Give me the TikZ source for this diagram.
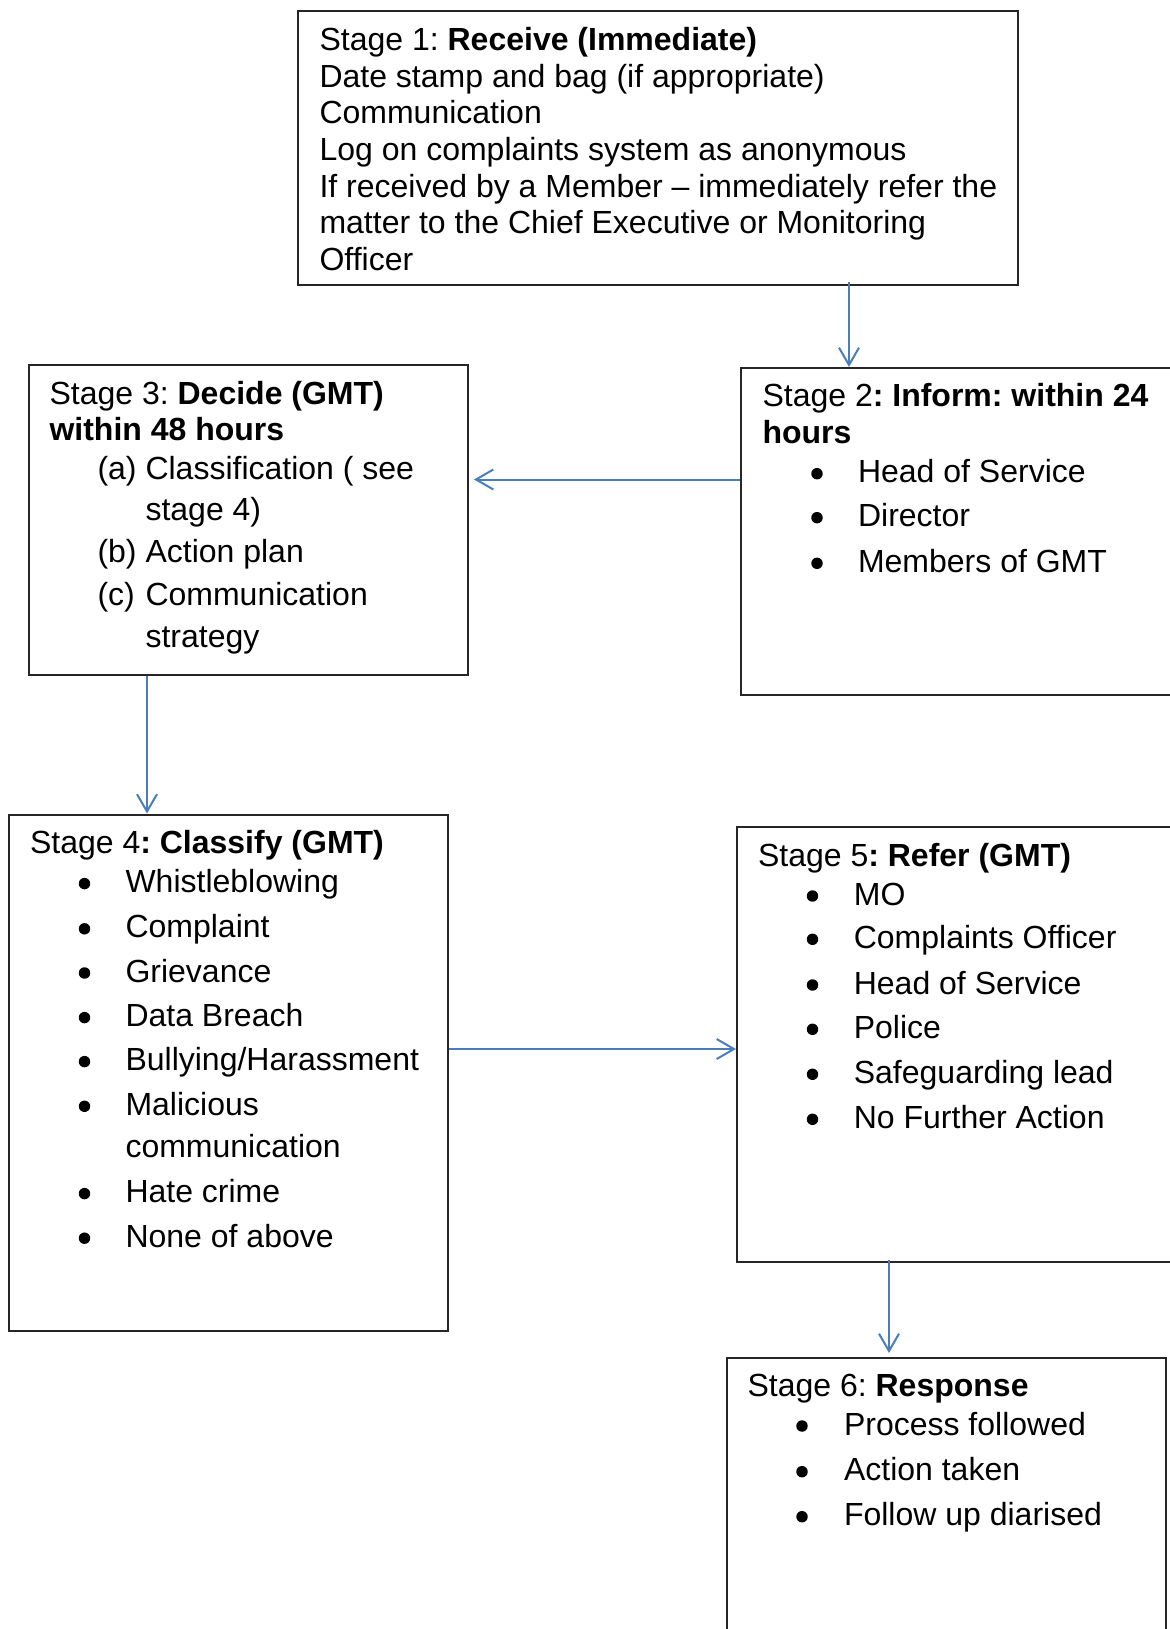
\documentclass[tikz,border=0pt]{standalone}
\usepackage{fontspec}
\setmainfont{Liberation Sans}
\usetikzlibrary{arrows.meta,calc}
\definecolor{arrowblue}{HTML}{4A7EBB}
\frenchspacing
\tikzset{
  box/.style={draw=black!85, line width=0.75pt, rectangle, inner sep=0pt, anchor=north west},
  txt/.style={anchor=base west, inner sep=0pt, font=\fontsize{12}{13.8}\selectfont},
  arr/.style={draw=arrowblue, line width=0.75pt, -{Straight Barb[length=6.5pt,width=7.5pt,line width=0.75pt]}},
  bul/.style={fill=black}
}
\newcommand\mkbox[5]{\node[box, minimum width={(#4-#2)*0.375pt}, minimum height={(#5-#3)*0.375pt}] (#1) at (#2,#3) {};}
\newcommand\tline[4]{\node[txt] (#1) at (#2,#3) {#4};}
\newcommand\bline[5]{\fill[bul] (#3,#4-9) circle[radius=2.15pt]; \node[txt] (#1) at (#2,#4) {#5};}
\begin{document}
\begin{tikzpicture}[x=0.375pt,y=-0.375pt]
\useasboundingbox (0,0) rectangle (1169,1629);
\fill[white] (0,0) rectangle (1169,1629);
% boxes
\mkbox{b1}{297}{10}{1017}{284}
\mkbox{b2}{740}{367}{1195}{694}
\mkbox{b3}{28}{364}{467}{674}
\mkbox{b4}{7.5}{813.5}{447}{1330}
\mkbox{b5}{736}{826}{1195}{1260.5}
\mkbox{b6}{726}{1357}{1165}{1660}
% stage 1
\tline{s1a}{319}{50.5}{Stage 1: \textbf{Receive (Immediate)}}
\tline{s1b}{319}{87.2}{Date stamp and bag (if appropriate)}
\tline{s1c}{319}{123.9}{Communication}
\tline{s1d}{319}{160.6}{Log on complaints system as anonymous}
\tline{s1e}{319}{197.3}{If received by a Member – immediately refer the}
\tline{s1f}{319}{234}{matter to the Chief Executive or Monitoring}
\tline{s1g}{319}{270.7}{Officer}
% stage 2
\tline{s2a}{762}{406.7}{Stage 2\textbf{: Inform: within 24}}
\tline{s2b}{762}{443.3}{\textbf{hours}}
\bline{s2c}{857.5}{817}{482.7}{Head of Service}
\bline{s2d}{857.5}{817}{526.7}{Director}
\bline{s2e}{857.5}{817}{572.3}{Members of GMT}
% stage 3
\tline{s3a}{49}{404.5}{Stage 3: \textbf{Decide (GMT)}}
\tline{s3b}{49}{441}{\textbf{within 48 hours}}
\tline{s3c}{97}{479.5}{(a)}
\tline{s3d}{145}{479.5}{Classification ( see}
\tline{s3e}{145}{520.5}{stage 4)}
\tline{s3f}{97}{562.7}{(b)}
\tline{s3g}{145}{562.7}{Action plan}
\tline{s3h}{97}{605.6}{(c)}
\tline{s3i}{145}{605.6}{Communication}
\tline{s3j}{145}{647.5}{strategy}
% stage 4
\tline{s4a}{29.5}{853.7}{Stage 4\textbf{: Classify (GMT)}}
\bline{s4b}{125}{84.5}{892.6}{Whistleblowing}
\bline{s4c}{125}{84.5}{937.8}{Complaint}
\bline{s4d}{125}{84.5}{982}{Grievance}
\bline{s4e}{125}{84.5}{1026.6}{Data Breach}
\bline{s4f}{125}{84.5}{1070.6}{Bullying/Harassment}
\bline{s4g}{125}{84.5}{1115.3}{Malicious}
\tline{s4h}{125}{1157.7}{communication}
\bline{s4i}{125}{84.5}{1202.6}{Hate crime}
\bline{s4j}{125}{84.5}{1247.2}{None of above}
% stage 5
\tline{s5a}{757.5}{866.7}{Stage 5\textbf{: Refer (GMT)}}
\bline{s5b}{853.3}{812.5}{905}{MO}
\bline{s5c}{853.3}{812.5}{948.3}{Complaints Officer}
\bline{s5d}{853.3}{812.5}{994}{Head of Service}
\bline{s5e}{853.3}{812.5}{1038.3}{Police}
\bline{s5f}{853.3}{812.5}{1083.3}{Safeguarding lead}
\bline{s5g}{853.3}{812.5}{1128.3}{No Further Action}
% stage 6
\tline{s6a}{747}{1396.7}{Stage 6: \textbf{Response}}
\bline{s6b}{843.5}{802}{1435}{Process followed}
\bline{s6c}{843.5}{802}{1480.7}{Action taken}
\bline{s6d}{843.5}{802}{1525.7}{Follow up diarised}
% connectors
\coordinate (a12) at ($(b1.south west)+(552,-4)$);
\draw[arr] (a12) -- (a12 |- b2.north);
\coordinate (a23) at ($(b2.north west)+(0,112.5)$);
\draw[arr] (a23) -- ($(a23 -| b3.east)+(5,0)$);
\coordinate (a34) at ($(b3.south west)+(119,0)$);
\draw[arr] (a34) -- (a34 |- b4.north);
\coordinate (a45) at ($(b4.north east)+(0,235.5)$);
\draw[arr] (a45) -- (a45 -| b5.west);
\coordinate (a56) at ($(b5.south west)+(153,-3)$);
\draw[arr] (a56) -- ($(a56 |- b6.north)+(0,-4)$);
\end{tikzpicture}
\end{document}
